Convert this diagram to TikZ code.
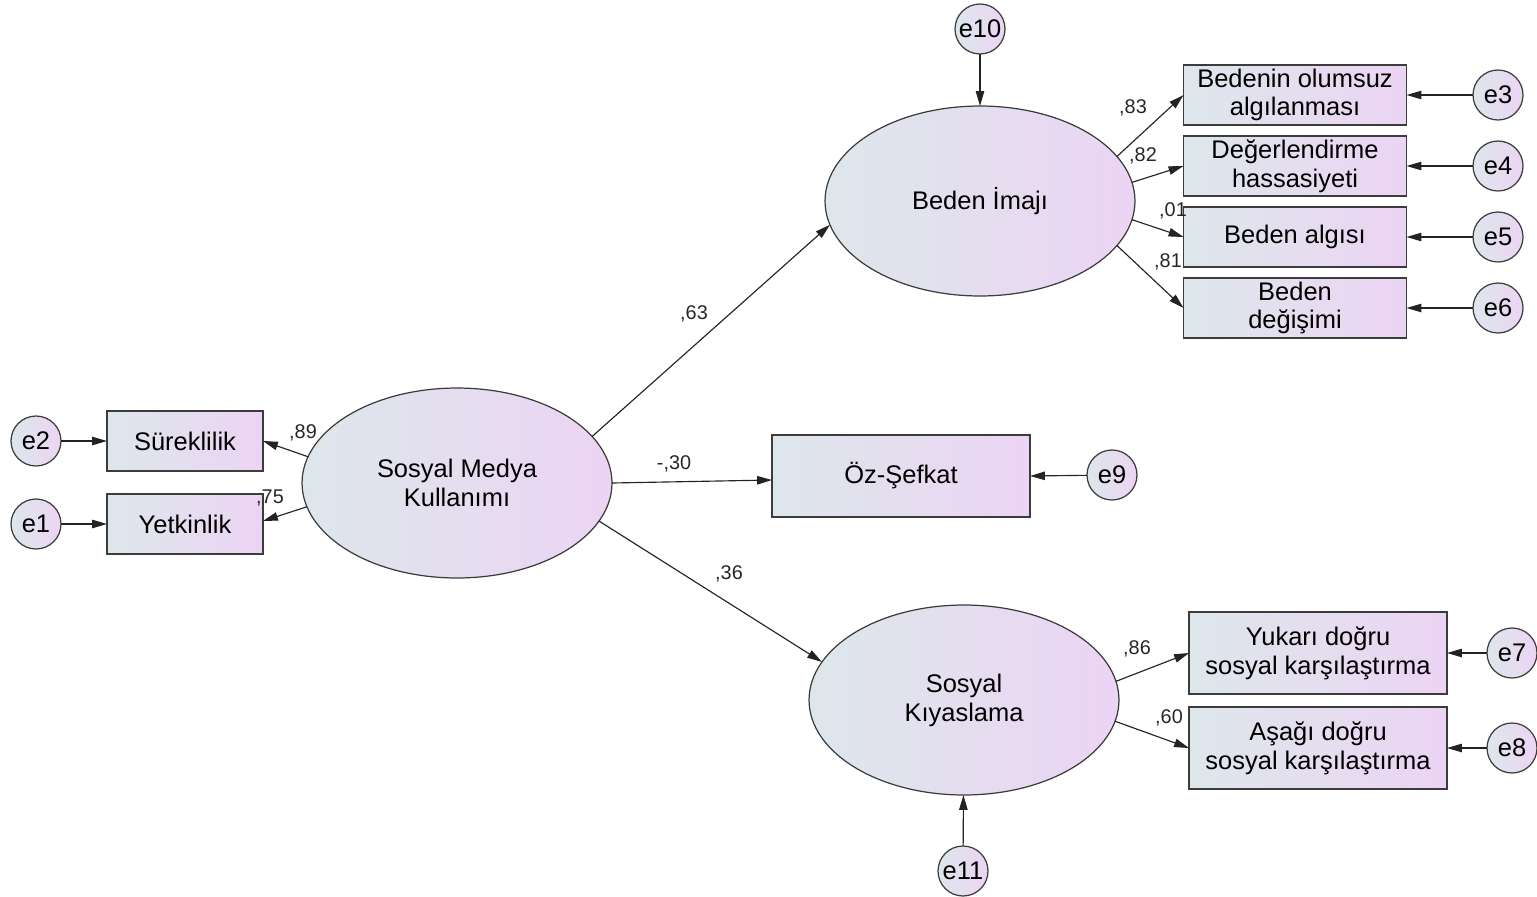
\documentclass[tikz,border=0pt]{standalone}
\usepackage{fontspec}
\setmainfont{Liberation Sans}
\usetikzlibrary{arrows.meta,shapes.geometric}
\definecolor{fillL}{RGB}{221,231,235}
\definecolor{fillR}{RGB}{236,212,244}
\definecolor{edgegray}{RGB}{60,60,60}
\definecolor{linegray}{RGB}{35,35,35}
\tikzset{
  shade/.style={left color=fillL, right color=fillR, draw=edgegray, line width=0.7pt, inner sep=0pt, outer sep=0pt, align=center, font=\fontsize{14.5}{16.4}\selectfont},
  obsbox/.style={shade, rectangle},
  latent/.style={shade, ellipse, minimum width=6.2cm, minimum height=3.8cm},
  errc/.style={shade, circle, minimum size=1.0cm},
  path/.style={draw=linegray, line width=0.65pt, -{Triangle[length=8.5pt,width=4.8pt]}},
  coef/.style={font=\fontsize{11.3}{13}\selectfont, inner sep=0pt, text=black!85}
}
\begin{document}
\begin{tikzpicture}[x=0.02cm, y=-0.02cm]
\useasboundingbox (0,0) rectangle (1537,896);

% latent variables
\node[latent] (smu) at (457,483) {Sosyal Medya\\Kullanımı};
\node[latent] (bi) at (980,201) {Beden İmajı};
\node[latent] (sk) at (964,700) {Sosyal\\Kıyaslama};

% observed variables
\node[obsbox, minimum width=3.12cm, minimum height=1.2cm] (sur) at (185,441) {Süreklilik};
\node[obsbox, minimum width=3.12cm, minimum height=1.2cm] (yet) at (185,524) {Yetkinlik};
\node[obsbox, minimum width=4.46cm, minimum height=1.2cm] (b1) at (1295,95) {Bedenin olumsuz\\algılanması};
\node[obsbox, minimum width=4.46cm, minimum height=1.2cm] (b2) at (1295,166) {Değerlendirme\\hassasiyeti};
\node[obsbox, minimum width=4.46cm, minimum height=1.2cm] (b3) at (1295,237) {Beden algısı};
\node[obsbox, minimum width=4.46cm, minimum height=1.2cm] (b4) at (1295,308) {Beden\\değişimi};
\node[obsbox, minimum width=5.16cm, minimum height=1.64cm] (oz) at (901,476) {Öz-Şefkat};
\node[obsbox, minimum width=5.16cm, minimum height=1.64cm] (yk) at (1318,653) {Yukarı doğru\\sosyal karşılaştırma};
\node[obsbox, minimum width=5.16cm, minimum height=1.64cm] (as) at (1318,748) {Aşağı doğru\\sosyal karşılaştırma};

% error terms
\node[errc] (e1) at (36,524) {e1};
\node[errc] (e2) at (36,441) {e2};
\node[errc] (e3) at (1498,95) {e3};
\node[errc] (e4) at (1498,166) {e4};
\node[errc] (e5) at (1498,237) {e5};
\node[errc] (e6) at (1498,308) {e6};
\node[errc] (e7) at (1512,653) {e7};
\node[errc] (e8) at (1512,748) {e8};
\node[errc] (e9) at (1112,475) {e9};
\node[errc] (e10) at (980,29) {e10};
\node[errc] (e11) at (963,871) {e11};

% structural paths
\draw[path] (smu.19) -- (bi.189);
\draw[path] (smu.east) -- ([yshift=-0.08cm]oz.west);
\draw[path] (smu.345.6) -- (sk.165);

% measurement paths
\draw[path] (smu.170.5) -- (sur.east);
\draw[path] (smu.189) -- ([yshift=0.06cm]yet.east);
\draw[path] (bi.18.6) -- (b1.west);
\draw[path] (bi.7.5) -- (b2.west);
\draw[path] (bi.-7.2) -- (b3.west);
\draw[path] (bi.-18.6) -- (b4.west);
\draw[path] (sk.7.9) -- (yk.west);
\draw[path] (sk.-8.2) -- (as.west);

% error paths
\draw[path] (e1) -- (yet.west);
\draw[path] (e2) -- (sur.west);
\draw[path] (e3) -- (b1.east);
\draw[path] (e4) -- (b2.east);
\draw[path] (e5) -- (b3.east);
\draw[path] (e6) -- (b4.east);
\draw[path] (e7) -- (yk.east);
\draw[path] (e8) -- (as.east);
\draw[path] (e9) -- (oz.east);
\draw[path] (e10) -- (bi);
\draw[path] (e11) -- (sk);

% coefficients
\node[coef] (c89) at (303,433) {,89};
\node[coef] (c75) at (270,498) {,75};
\node[coef] (c63) at (694,314) {,63};
\node[coef] (c30) at (674,464) {-,30};
\node[coef] (c36) at (729,574) {,36};
\node[coef] (c83) at (1133,108) {,83};
\node[coef] (c82) at (1143,156) {,82};
\node[coef] (c01) at (1173,211) {,01};
\node[coef] (c81) at (1168,262) {,81};
\node[coef] (c86) at (1137,649) {,86};
\node[coef] (c60) at (1169,718) {,60};
\end{tikzpicture}
\end{document}
